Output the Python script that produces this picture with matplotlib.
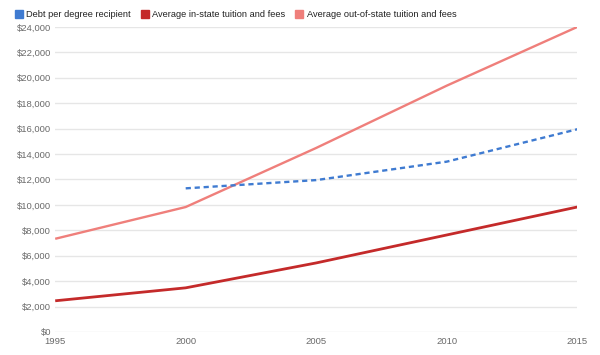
import matplotlib.pyplot as plt
from matplotlib.lines import Line2D
from matplotlib.ticker import FuncFormatter

plt.rcParams['font.family'] = ['Liberation Sans', 'DejaVu Sans']

years = [1995, 2000, 2005, 2010, 2015]
debt_years = [2000, 2005, 2010, 2015]
debt = [11300, 11950, 13400, 15950]
in_state = [2450, 3470, 5430, 7630, 9830]
out_state = [7330, 9830, 14480, 19380, 24000]

c_debt = '#3f7bd1'
c_in = '#c42a2a'
c_out = '#ef7f7b'

fig = plt.figure(figsize=(6, 3.55), dpi=100)
ax = fig.add_axes([0.092, 0.065, 0.87, 0.859])

ax.plot(years, out_state, color=c_out, lw=1.7, solid_capstyle='butt')
ax.plot(years, in_state, color=c_in, lw=2.0, solid_capstyle='butt')
ax.plot(debt_years, debt, color=c_debt, lw=1.7, ls=(0, (2.2, 1.6)))

ax.set_xlim(1995, 2015)
ax.set_ylim(0, 24000)
ax.set_xticks(years)
ax.set_yticks(range(0, 24001, 2000))
ax.yaxis.set_major_formatter(FuncFormatter(lambda v, p: '${:,.0f}'.format(v)))
ax.grid(axis='y', color='#e6e6e6', lw=1)
ax.set_axisbelow(True)
for s in ax.spines.values():
    s.set_visible(False)
ax.tick_params(length=0, labelsize=6.8, colors='#6a6a6a', pad=3)
ax.tick_params(axis='x', pad=4)

handles = [Line2D([], [], marker='s', ls='', color=c, markersize=5.5)
           for c in (c_debt, c_in, c_out)]
labels = ['Debt per degree recipient', 'Average in-state tuition and fees',
          'Average out-of-state tuition and fees']
fig.legend(handles, labels, loc='upper left', bbox_to_anchor=(0.008, 0.995),
           ncol=3, frameon=False, fontsize=6.7, handletextpad=0.2,
           columnspacing=0.9, handlelength=1.2, labelcolor='#222222')

fig.savefig('out.png')
